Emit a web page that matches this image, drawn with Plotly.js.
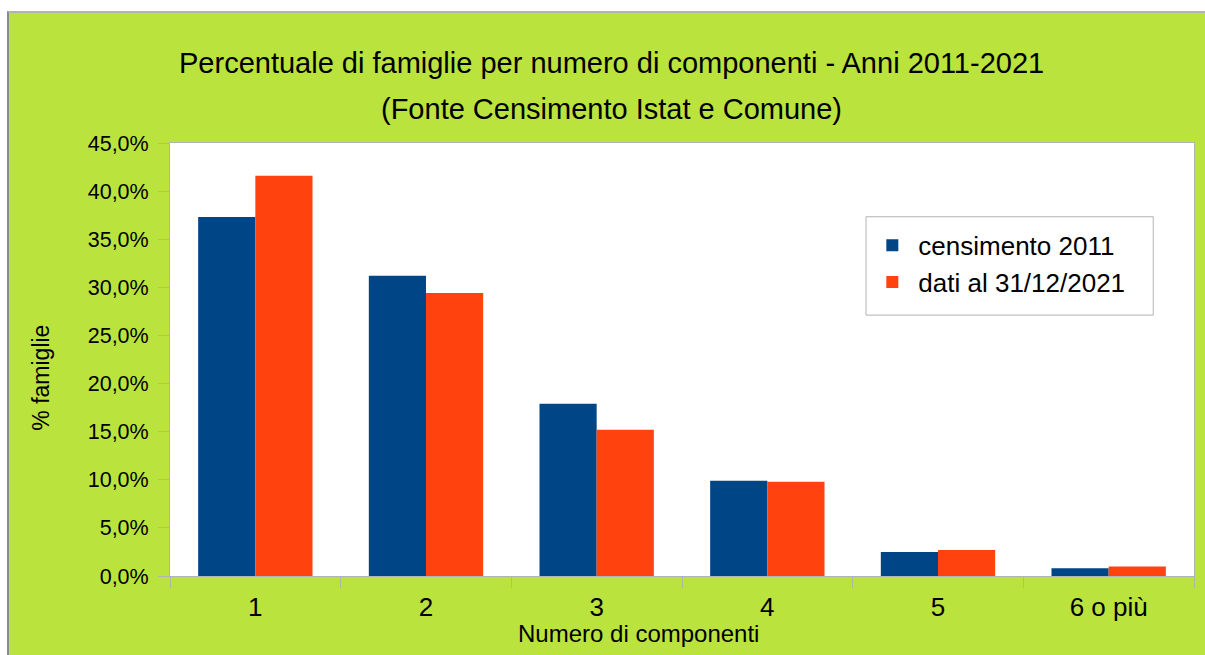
<!DOCTYPE html>
<html>
<head>
<meta charset="utf-8">
<script src="https://cdn.plot.ly/plotly-3.0.1.min.js"></script>
<style>
  html, body { margin: 0; padding: 0; background: #ffffff; }
  #chart { position: absolute; left: 7px; top: 11px; width: 1198px; height: 644px;
           border-left: 2px solid #8a8a8a; border-top: 2px solid #b3b3b3; box-sizing: border-box; }
</style>
</head>
<body>
<div id="chart"></div>
<script>
const categories = ["1", "2", "3", "4", "5", "6 o più"];
const censimento2011 = [37.3, 31.2, 17.9, 9.9, 2.5, 0.8];
const dati2021 = [41.6, 29.4, 15.2, 9.8, 2.7, 1.0];
const seriesNames = ["censimento 2011", "dati al 31/12/2021"];
const titleLine1 = "Percentuale di famiglie per numero di componenti - Anni 2011-2021";
const titleLine2 = "(Fonte Censimento Istat e Comune)";
const xTitle = "Numero di componenti";
const yTitle = "% famiglie";

const FONT = "Liberation Sans, Arial, sans-serif";
const BLACK = "#000000";
const traces = [
  { type: "bar", x: categories, y: censimento2011, name: seriesNames[0],
    marker: { color: "#004586" }, legendgroup: "a" },
  { type: "bar", x: categories, y: dati2021, name: seriesNames[1],
    marker: { color: "#ff420e" }, legendgroup: "b" }
];

const layout = {
  width: 1196, height: 642,
  paper_bgcolor: "#bbe33d",
  plot_bgcolor: "#ffffff",
  margin: { l: 161, r: 11, t: 130, b: 79, pad: 0 },
  separators: ",.",
  font: { family: FONT, color: BLACK },
  barmode: "group",
  bargap: 0.33,
  bargroupgap: 0,
  showlegend: true,
  legend: {
    x: 0.68, y: 0.818, xanchor: "left", yanchor: "top",
    bgcolor: "rgba(0,0,0,0)", borderwidth: 0,
    font: { family: FONT, size: 26, color: BLACK },
    tracegroupgap: 15, traceorder: "normal", itemwidth: 42
  },
  shapes: [
    { type: "rect", xref: "paper", yref: "paper", x0: 0.6797, x1: 0.9602, y0: 0.6025, y1: 0.8297,
      fillcolor: "#ffffff", line: { color: "#b3b3b3", width: 1 }, layer: "above" }
  ],
  xaxis: {
    type: "category",
    showline: true, linecolor: "#b3b3b3", linewidth: 1, mirror: true,
    ticks: "outside", tickson: "boundaries", ticklen: 11, tickcolor: "#b3b3b3",
    tickfont: { family: FONT, size: 26, color: BLACK },
    ticklabelstandoff: 8,
    showgrid: false
  },
  yaxis: {
    range: [0, 45], dtick: 5, tick0: 0,
    tickformat: ".1f", ticksuffix: "%",
    showline: true, linecolor: "#b3b3b3", linewidth: 1, mirror: true,
    ticks: "outside", ticklen: 11, tickcolor: "#b3b3b3",
    tickfont: { family: FONT, size: 21.5, color: BLACK },
    ticklabelstandoff: 5,
    showgrid: false, zeroline: false
  },
  annotations: [
    { text: titleLine1, xref: "paper", yref: "paper", x: 0.4315, y: 1.0,
      yshift: 80, xanchor: "center", yanchor: "middle", showarrow: false,
      font: { family: FONT, size: 29, color: BLACK } },
    { text: titleLine2, xref: "paper", yref: "paper", x: 0.4315, y: 1.0,
      yshift: 34, xanchor: "center", yanchor: "middle", showarrow: false,
      font: { family: FONT, size: 29, color: BLACK } },
    { text: xTitle, xref: "paper", yref: "paper", x: 0.4579, y: 0,
      yshift: -57, xanchor: "center", yanchor: "middle", showarrow: false,
      font: { family: FONT, size: 24, color: BLACK } },
    { text: yTitle, xref: "paper", yref: "paper", x: -0.1256, y: 0.4589,
      xanchor: "center", yanchor: "middle", textangle: -90, showarrow: false,
      font: { family: FONT, size: 23, color: BLACK } }
  ]
};

Plotly.newPlot("chart", traces, layout, { displayModeBar: false, staticPlot: true });
</script>
</body>
</html>
